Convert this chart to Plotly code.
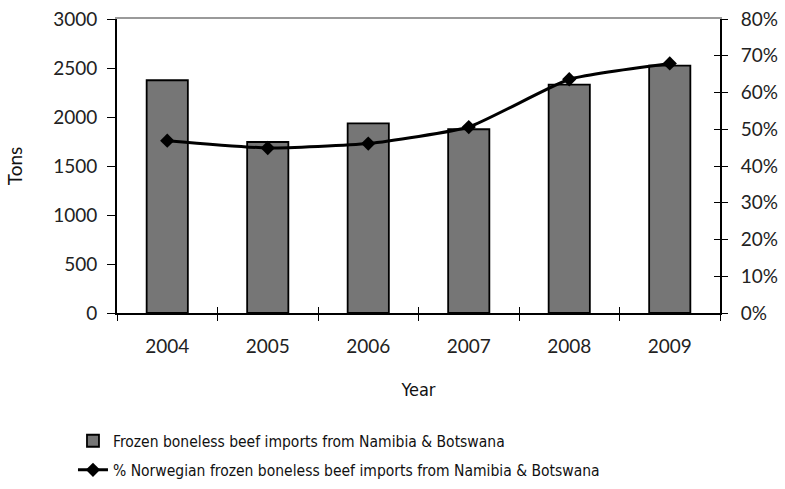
import plotly.graph_objects as go

# Data
years = ["2004", "2005", "2006", "2007", "2008", "2009"]
tons = [2375, 1745, 1935, 1875, 2330, 2525]
share_pct = [0.469, 0.449, 0.461, 0.506, 0.636, 0.679]

left_ticks = [0, 500, 1000, 1500, 2000, 2500, 3000]
right_ticks = [0, 0.1, 0.2, 0.3, 0.4, 0.5, 0.6, 0.7, 0.8]
right_labels = ["0%", "10%", "20%", "30%", "40%", "50%", "60%", "70%", "80%"]

bar_name = "Frozen boneless beef imports from Namibia & Botswana"
line_name = "% Norwegian frozen boneless beef imports from Namibia & Botswana"

tick_font = dict(family="Lato, Open Sans, sans-serif", size=19, color="#222")
narrow = "DejaVu Sans Condensed, Liberation Sans Narrow, Roboto, sans-serif"
legend_font = dict(family=narrow, size=15.5, color="#111")

fig = go.Figure()

fig.add_trace(go.Bar(
    x=years, y=tons, name=bar_name,
    marker=dict(color="#767676", line=dict(color="#000", width=1.8)),
    width=0.41, xaxis="x", yaxis="y", legend="legend",
))

fig.add_trace(go.Scatter(
    x=years, y=share_pct, name=line_name, mode="lines+markers",
    line=dict(color="#000", width=3, shape="spline", smoothing=0.45),
    marker=dict(symbol="diamond", size=11, color="#000"),
    xaxis="x", yaxis="y2", legend="legend2",
))

# Helper traces so the inner tick overlays get drawn
fig.add_trace(go.Scatter(x=[], y=[], xaxis="x2", yaxis="y", showlegend=False, hoverinfo="skip"))
fig.add_trace(go.Scatter(x=[], y=[], xaxis="x", yaxis="y3", showlegend=False, hoverinfo="skip"))

legend_common = dict(
    xanchor="left", yanchor="middle", orientation="v",
    font=legend_font, bgcolor="rgba(0,0,0,0)", itemwidth=30,
)

fig.update_layout(
    width=785, height=489,
    margin=dict(l=117, r=65, t=19, b=176, autoexpand=False),
    paper_bgcolor="white", plot_bgcolor="white",
    showlegend=True,
    legend=dict(x=-0.073, y=-0.436, **legend_common),
    legend2=dict(x=-0.073, y=-0.535, **legend_common),
    xaxis=dict(
        type="category", categoryorder="array", categoryarray=years,
        range=[-0.5, 5.5], automargin=False,
        showline=True, linecolor="#9a9a9a", linewidth=2, mirror=True,
        ticks="outside", tickson="boundaries", ticklen=6, tickcolor="#000", tickwidth=1.3,
        tickfont=tick_font, showgrid=False, ticklabelstandoff=15,
        title=dict(text="Year", font=dict(family=narrow, size=18, color="#111"), standoff=28),
    ),
    xaxis2=dict(
        overlaying="x", anchor="y", range=[-0.5, 5.5],
        tickvals=[-0.5, 0.5, 1.5, 2.5, 3.5, 4.5, 5.5],
        ticks="inside", ticklen=6, tickcolor="#000", tickwidth=1.3,
        showticklabels=False, showgrid=False, zeroline=False,
        showline=True, linecolor="#000", linewidth=1.8,
    ),
    yaxis=dict(
        range=[0, 3000], tickvals=left_ticks, automargin=False,
        showline=True, linecolor="#000", linewidth=1.8,
        ticks="outside", ticklen=8, tickcolor="#000", tickwidth=1.3,
        tickfont=tick_font, showgrid=False, zeroline=False, ticklabelstandoff=6,
        title=dict(text="Tons", font=dict(family="Lato, Open Sans, sans-serif", size=19, color="#111"), standoff=26),
    ),
    yaxis2=dict(
        overlaying="y", side="right", anchor="x", automargin=False,
        range=[0, 0.8], tickvals=right_ticks, ticktext=right_labels,
        showline=True, linecolor="#000", linewidth=1.8,
        ticks="outside", ticklen=6, tickcolor="#000", tickwidth=1.3,
        tickfont=tick_font, showgrid=False, zeroline=False, ticklabelstandoff=9,
    ),
    yaxis3=dict(
        overlaying="y", side="right", anchor="x",
        range=[0, 0.8], tickvals=right_ticks,
        ticks="inside", ticklen=6, tickcolor="#000", tickwidth=1.3,
        showticklabels=False, showgrid=False, zeroline=False, showline=False,
    ),
)

fig.write_html("out.html")
